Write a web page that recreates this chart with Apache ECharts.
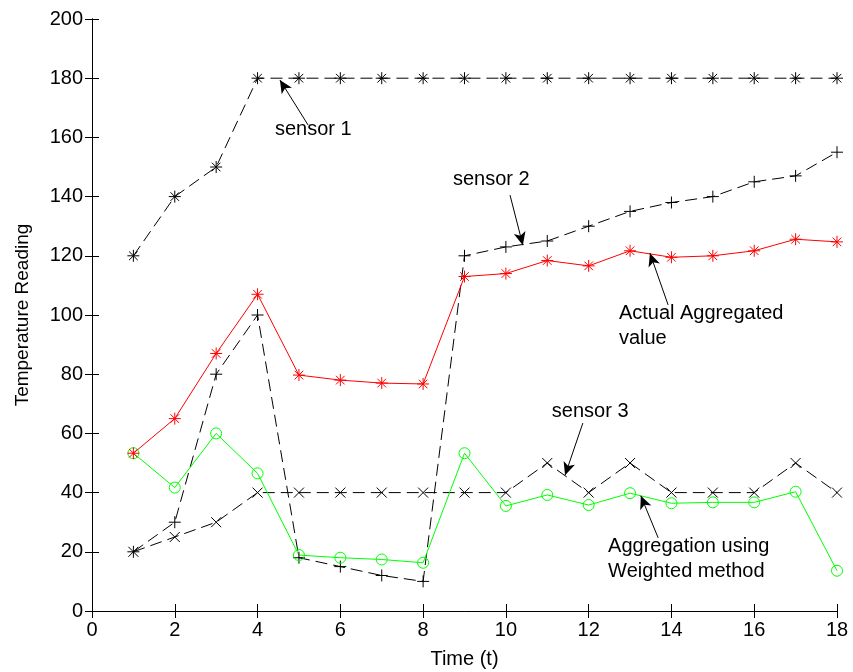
<!DOCTYPE html>
<html>
<head>
<meta charset="utf-8">
<script src="https://cdn.jsdelivr.net/npm/echarts@6/dist/echarts.min.js"></script>
<style>
  html, body { margin: 0; padding: 0; background: #fff; }
  #chart { width: 853px; height: 672px; }
</style>
</head>
<body>
<div id="chart"></div>
<script>
// Time steps and readings
const timeSteps = [1, 2, 3, 4, 5, 6, 7, 8, 9, 10, 11, 12, 13, 14, 15, 16, 17, 18];
const sensor1 = [120, 140, 150, 180, 180, 180, 180, 180, 180, 180, 180, 180, 180, 180, 180, 180, 180, 180];
const sensor2 = [20, 30, 80, 100, 18, 15, 12, 10, 120, 123, 125, 130, 135, 138, 140, 145, 147, 155];
const sensor3 = [20, 25, 30, 40, 40, 40, 40, 40, 40, 40, 50, 40, 50, 40, 40, 40, 50, 40];
const actualAggregated = [53.3, 65, 87, 107, 79.7, 78, 77, 76.7, 113, 114, 118.4, 116.6, 121.7, 119.5, 120, 121.7, 125.6, 124.7];
const weightedAggregation = [53.3, 41.7, 60, 46.5, 18.9, 18, 17.4, 16.3, 53.3, 35.5, 39.2, 35.8, 39.8, 36.4, 36.7, 36.7, 40.3, 13.6];
const yTicks = [0, 20, 40, 60, 80, 100, 120, 140, 160, 180, 200];
const xTicks = [0, 2, 4, 6, 8, 10, 12, 14, 16, 18];

const pairs = (ys) => timeSteps.map((t, i) => [t, ys[i]]);

// Stroke-only marker shapes
const STAR = 'path://M0,-6L0,6M-6,0L6,0M-4.3,-4.3L4.3,4.3M-4.3,4.3L4.3,-4.3';
const PLUS = 'path://M0,-6L0,6M-6,0L6,0';
const CROSS = 'path://M-5,-5L5,5M-5,5L5,-5';

const FONT = '"Liberation Sans", Arial, sans-serif';
const dash = [12, 6];

function sensorSeries(name, ys, symbol, size) {
  return {
    name, type: 'line', data: pairs(ys),
    symbol, symbolSize: size, showAllSymbol: true,
    itemStyle: { color: 'rgba(0,0,0,0)', borderColor: '#000', borderWidth: 1 },
    lineStyle: { color: '#000', width: 1, type: dash },
    emphasis: { disabled: true }
  };
}

// Annotation callouts (text anchor and arrow tail/tip in data units)
const callouts = [
  { lines: ['sensor 1'], at: [4.42, 162.2], from: [5.22, 164.2], to: [4.54, 179.4] },
  { lines: ['sensor 2'], at: [8.72, 145.6], from: [10.1, 140.5], to: [10.41, 123.6] },
  { lines: ['Actual Aggregated', 'value'], at: [12.73, 100.3], from: [13.92, 103.4], to: [13.48, 120.9] },
  { lines: ['sensor 3'], at: [11.11, 66.9], from: [11.86, 63.5], to: [11.43, 45.9] },
  { lines: ['Aggregation using', 'Weighted method'], at: [12.47, 21.3], from: [13.68, 24.7], to: [13.26, 38.9] }
];

const axisLine = { show: true, lineStyle: { color: '#000', width: 1 } };
const tickIn = { show: true, inside: true, length: 7, lineStyle: { color: '#000', width: 1 } };

const chart = echarts.init(document.getElementById('chart'), null, { renderer: 'canvas' });

const option = {
  backgroundColor: '#fff',
  animation: false,
  grid: { left: 92, right: 16, top: 19, bottom: 61, containLabel: false, outerBoundsMode: 'none' },
  xAxis: [
    {
      type: 'value', min: 0, max: 18, interval: 2, position: 'bottom',
      name: 'Time (t)', nameLocation: 'middle', nameGap: 38,
      nameTextStyle: { fontFamily: FONT, fontSize: 20, color: '#000' },
      axisLine, axisTick: tickIn, splitLine: { show: false },
      axisLabel: { fontFamily: FONT, fontSize: 20, color: '#000', margin: 9,
        formatter: (v) => xTicks.includes(v) ? String(v) : '' }
    },
    {
      type: 'value', min: 0, max: 18, interval: 2, position: 'top',
      axisLine, axisTick: tickIn, splitLine: { show: false }, axisLabel: { show: false }
    }
  ],
  yAxis: [
    {
      type: 'value', min: 0, max: 200, interval: 20, position: 'left',
      name: 'Temperature Reading', nameLocation: 'middle', nameGap: 60,
      nameTextStyle: { fontFamily: FONT, fontSize: 19, color: '#000' },
      axisLine, axisTick: tickIn, splitLine: { show: false },
      axisLabel: { fontFamily: FONT, fontSize: 20, color: '#000', margin: 9,
        formatter: (v) => yTicks.includes(v) ? String(v) : '' }
    },
    {
      type: 'value', min: 0, max: 200, interval: 20, position: 'right',
      axisLine, axisTick: tickIn, splitLine: { show: false }, axisLabel: { show: false }
    }
  ],
  series: [
    sensorSeries('sensor 1', sensor1, STAR, 12),
    sensorSeries('sensor 2', sensor2, PLUS, 12),
    sensorSeries('sensor 3', sensor3, CROSS, 10),
    {
      name: 'Aggregation using Weighted method', type: 'line', data: pairs(weightedAggregation),
      symbol: 'circle', symbolSize: 11, showAllSymbol: true,
      itemStyle: { color: 'rgba(0,0,0,0)', borderColor: '#00ff00', borderWidth: 1 },
      lineStyle: { color: '#00ff00', width: 1 },
      emphasis: { disabled: true }
    },
    {
      name: 'Actual Aggregated value', type: 'line', data: pairs(actualAggregated),
      symbol: STAR, symbolSize: 12, showAllSymbol: true,
      itemStyle: { color: 'rgba(0,0,0,0)', borderColor: '#ff0000', borderWidth: 1 },
      lineStyle: { color: '#ff0000', width: 1 },
      emphasis: { disabled: true },
      markLine: {
        silent: true, animation: false,
        symbol: ['none', 'arrow'], symbolSize: [9, 13],
        lineStyle: { color: '#000', width: 1, type: 'solid' },
        itemStyle: { color: '#000' },
        label: { show: false },
        data: callouts.map(c => [{ coord: c.from }, { coord: c.to }])
      }
    }
  ]
};

chart.setOption(option);

// Callout text placed in data space
const texts = [];
callouts.forEach(c => {
  const p = chart.convertToPixel({ gridIndex: 0 }, c.at);
  c.lines.forEach((line, i) => {
    texts.push({
      type: 'text', left: p[0], top: p[1] - 11 + i * 25, silent: true,
      style: { text: line, fill: '#000', font: '20px ' + FONT }
    });
  });
});
chart.setOption({ graphic: texts });
</script>
</body>
</html>
